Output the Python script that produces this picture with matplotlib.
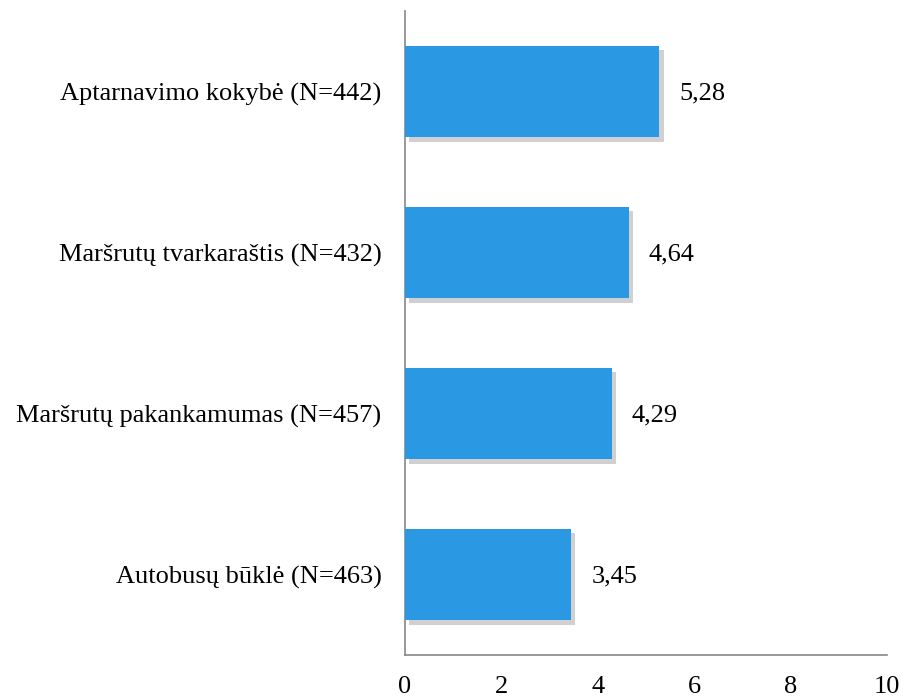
import matplotlib
matplotlib.use("Agg")
import matplotlib.pyplot as plt
import matplotlib.patheffects as pe

# Data (bottom to top)
categories = ['Autobusų būklė (N=463)',
              'Maršrutų pakankamumas (N=457)',
              'Maršrutų tvarkaraštis (N=432)',
              'Aptarnavimo kokybė (N=442)']
scores = [3.45, 4.29, 4.64, 5.28]
score_labels = ['3,45', '4,29', '4,64', '5,28']
x_ticks = [0, 2, 4, 6, 8, 10]

plt.rcParams['font.family'] = ['Liberation Serif', 'DejaVu Serif']

fig = plt.figure(figsize=(9.18, 7.0), dpi=100)
ax = fig.add_axes([405 / 918, 1 - 655 / 700, (887 - 405) / 918, (655 - 11) / 700])

bars = ax.barh(range(len(categories)), scores, height=0.57, color='#2A98E2',
               zorder=3)
for b in bars:
    b.set_path_effects([pe.SimplePatchShadow(offset=(3, -3), alpha=0.25,
                                             shadow_rgbFace='#444444'),
                        pe.Normal()])

for i, (val, lab) in enumerate(zip(scores, score_labels)):
    ax.annotate(lab, xy=(val, i), xytext=(20, -2), textcoords='offset pixels',
                va='center', ha='left', fontsize=19)

ax.set_xlim(0, 10)
ax.set_ylim(-0.5, len(categories) - 0.5)
ax.set_xticks(x_ticks)
ax.set_xticklabels([str(t) for t in x_ticks], fontsize=19)
ax.set_yticks(range(len(categories)))
ax.set_yticklabels(categories, fontsize=19)
ax.tick_params(axis='both', length=0)
ax.tick_params(axis='y', pad=17)
ax.tick_params(axis='x', pad=15)

for s in ['top', 'right']:
    ax.spines[s].set_visible(False)
for s in ['left', 'bottom']:
    ax.spines[s].set_color('#888888')
    ax.spines[s].set_linewidth(1.2)

fig.savefig('out.png', dpi=100)
